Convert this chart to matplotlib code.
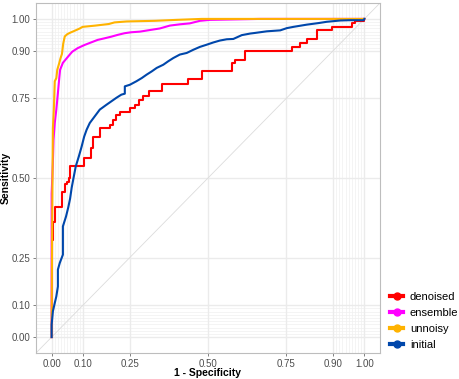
import matplotlib
matplotlib.use("Agg")
import matplotlib.pyplot as plt
from matplotlib.lines import Line2D
import numpy as np

plt.rcParams['font.family'] = ['Liberation Sans', 'DejaVu Sans']

# ---- data ----
series_names = ["denoised", "ensemble", "unnoisy", "initial"]
series_colors = ["#FF0000", "#FF00FF", "#FFB300", "#0047AB"]

denoised_fpr = [0.000, 0.000, 0.003, 0.011, 0.034, 0.042, 0.049, 0.055, 0.060, 0.104,
                0.127, 0.133, 0.156, 0.188, 0.196, 0.207, 0.218, 0.250, 0.266, 0.280,
                0.293, 0.312, 0.352, 0.437, 0.480, 0.576, 0.587, 0.619, 0.768, 0.795,
                0.816, 0.848, 0.896, 0.961, 0.971, 1.000]
denoised_tpr = [0.000, 0.306, 0.363, 0.410, 0.455, 0.480, 0.489, 0.501, 0.539, 0.564,
                0.595, 0.630, 0.657, 0.668, 0.683, 0.699, 0.706, 0.720, 0.731, 0.746,
                0.757, 0.772, 0.797, 0.811, 0.835, 0.862, 0.872, 0.898, 0.912, 0.925,
                0.937, 0.964, 0.975, 0.987, 0.992, 1.000]

ensemble_fpr = [0.000, 0.000, 0.004, 0.006, 0.010, 0.015, 0.020, 0.024, 0.027, 0.036,
                0.047, 0.058, 0.066, 0.083, 0.105, 0.126, 0.147, 0.169, 0.190, 0.212,
                0.233, 0.254, 0.282, 0.314, 0.346, 0.378, 0.410, 0.442, 0.474, 0.506,
                0.667, 1.000]
ensemble_tpr = [0.000, 0.450, 0.550, 0.620, 0.673, 0.715, 0.767, 0.810, 0.840, 0.862,
                0.875, 0.888, 0.897, 0.908, 0.918, 0.926, 0.934, 0.939, 0.944, 0.950,
                0.955, 0.958, 0.960, 0.965, 0.970, 0.979, 0.983, 0.986, 0.994, 0.997,
                1.000, 1.000]

unnoisy_fpr = [0.000, 0.000, 0.002, 0.004, 0.007, 0.010, 0.015, 0.018, 0.024, 0.028,
               0.033, 0.037, 0.042, 0.050, 0.060, 0.072, 0.090, 0.099, 0.140, 0.183,
               0.201, 0.240, 0.330, 0.400, 0.480, 1.000]
unnoisy_tpr = [0.000, 0.044, 0.400, 0.657, 0.715, 0.804, 0.814, 0.840, 0.860, 0.875,
               0.890, 0.922, 0.945, 0.952, 0.957, 0.962, 0.970, 0.975, 0.979, 0.984,
               0.989, 0.992, 0.994, 0.997, 1.000, 1.000]

initial_fpr = [0.000, 0.000, 0.004, 0.010, 0.015, 0.020, 0.020, 0.026, 0.036, 0.036,
               0.046, 0.053, 0.059, 0.064, 0.069, 0.077, 0.087, 0.096, 0.104, 0.112,
               0.122, 0.138, 0.154, 0.175, 0.191, 0.207, 0.223, 0.234, 0.234, 0.250,
               0.271, 0.288, 0.304, 0.320, 0.336, 0.357, 0.373, 0.389, 0.410, 0.432,
               0.453, 0.474, 0.496, 0.517, 0.538, 0.560, 0.581, 0.608, 0.635, 0.651,
               0.688, 0.731, 0.752, 0.773, 0.816, 0.854, 0.880, 0.923, 0.955, 0.998,
               1.000]
initial_tpr = [0.000, 0.039, 0.081, 0.107, 0.128, 0.159, 0.212, 0.233, 0.259, 0.348,
               0.379, 0.407, 0.435, 0.469, 0.495, 0.536, 0.568, 0.599, 0.630, 0.652,
               0.673, 0.694, 0.715, 0.730, 0.741, 0.752, 0.762, 0.765, 0.788, 0.793,
               0.804, 0.814, 0.825, 0.835, 0.846, 0.856, 0.867, 0.877, 0.888, 0.893,
               0.903, 0.912, 0.919, 0.926, 0.932, 0.936, 0.937, 0.949, 0.954, 0.956,
               0.961, 0.964, 0.971, 0.975, 0.982, 0.987, 0.991, 0.995, 0.996, 0.996,
               1.000]

major_breaks = [0.0, 0.1, 0.25, 0.5, 0.75, 0.9, 1.0]
major_labels = ["0.00", "0.10", "0.25", "0.50", "0.75", "0.90", "1.00"]
minor_breaks = [i / 100 for i in range(0, 11)] + [0.9 + i / 100 for i in range(0, 11)]

x_title = "1 - Specificity"
y_title = "Sensitivity"

# ---- figure ----
W, H = 459, 379
fig = plt.figure(figsize=(W / 100, H / 100), dpi=100)
ax = fig.add_axes([36 / W, 1 - 353 / H, (380 - 36) / W, (353 - 3) / H])
ax.set_facecolor("white")

ax.set_xlim(-0.05, 1.05)
ax.set_ylim(-0.05, 1.05)

# grid
for v in minor_breaks:
    ax.axvline(v, color="#F0F0F0", lw=0.5, zorder=0)
    ax.axhline(v, color="#F0F0F0", lw=0.5, zorder=0)
for v in major_breaks:
    ax.axvline(v, color="#EBEBEB", lw=1.0, zorder=0.5)
    ax.axhline(v, color="#EBEBEB", lw=1.0, zorder=0.5)

ax.axline((0, 0), (1, 1), color="#DCDCDC", lw=0.6, zorder=1)

ax.plot(denoised_fpr, denoised_tpr, color=series_colors[0], lw=1.5,
        drawstyle="steps-post", zorder=2)
ax.plot(ensemble_fpr, ensemble_tpr, color=series_colors[1], lw=1.5, zorder=3)
ax.plot(unnoisy_fpr, unnoisy_tpr, color=series_colors[2], lw=1.5, zorder=4)
ax.plot(initial_fpr, initial_tpr, color=series_colors[3], lw=1.5, zorder=5)

ax.set_xticks(major_breaks)
ax.set_xticklabels(major_labels)
ax.set_yticks(major_breaks)
ax.set_yticklabels(major_labels)
ax.tick_params(axis="both", length=2.5, width=0.5, color="#4D4D4D",
               labelsize=7, labelcolor="#4D4D4D", pad=1.5)

for s in ax.spines.values():
    s.set_color("#BDBDBD")
    s.set_linewidth(0.8)

fig.text(208 / W, 1 - 373 / H, x_title, fontsize=7.5, fontweight="bold",
         ha="center", va="center")
fig.text(6 / W, 1 - 178 / H, y_title, fontsize=7.5, fontweight="bold",
         ha="center", va="center", rotation=90)

handles = [Line2D([0], [0], color=c, lw=3, marker="o", markersize=5,
                  markeredgecolor=c) for c in series_colors]
fig.legend(handles, series_names, loc="center left",
           bbox_to_anchor=(390 / W, 1 - 321 / H), frameon=False,
           fontsize=8, handlelength=1.2, handletextpad=0.6, labelspacing=0.55,
           borderaxespad=0, borderpad=0)

fig.savefig("out.png", dpi=100)
